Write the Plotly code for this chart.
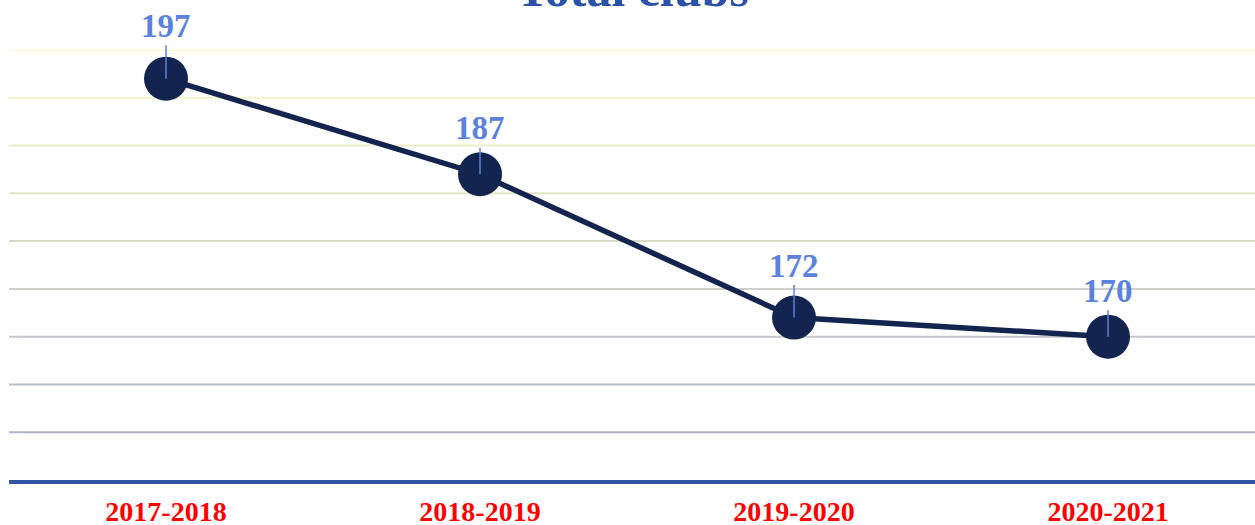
import plotly.graph_objects as go

# ---- data ----
seasons = ["2017-2018", "2018-2019", "2019-2020", "2020-2021"]
total_clubs = [197, 187, 172, 170]
label_offsets = [-53, -46, -52, -46]

title_text = "Total clubs"
grid_values = [160, 165, 170, 175, 180, 185, 190, 195, 200]
grid_colors = ["#aeb3c8", "#b8bdcc", "#c3c7cc", "#cdd0cb", "#d8dbc9",
               "#e2e4c7", "#ecedc8", "#f4f4cb", "#fcfbcf"]
y_min, y_max = 155, 200

fig = go.Figure()

fig.add_trace(go.Scatter(
    x=seasons, y=total_clubs, mode="lines+markers",
    line=dict(color="#13244f", width=5.5),
    marker=dict(size=44, color="#13244f"),
    cliponaxis=False, hoverinfo="skip", showlegend=False,
))

# coloured gridlines
for v, c in zip(grid_values, grid_colors):
    fig.add_shape(type="line", xref="paper", yref="y", x0=0, x1=1, y0=v, y1=v,
                  line=dict(color=c, width=2), layer="below")

# data labels with leader lines
for s, v, off in zip(seasons, total_clubs, label_offsets):
    fig.add_annotation(
        x=s, y=v, xref="x", yref="y", text=str(v),
        showarrow=True, arrowhead=0, arrowwidth=1.5, arrowcolor="#5b82dc",
        ax=0, ay=off, standoff=0, startstandoff=0,
        font=dict(family="Liberation Serif", size=33, color="#5b82dc", weight="bold"),
    )

# title (cut off at top)
fig.add_annotation(
    x=0.5, y=1.143, xref="paper", yref="paper", text=title_text, showarrow=False,
    xanchor="center", yanchor="middle",
    font=dict(family="Liberation Serif", size=50, color="#2b52a6", weight="bold"),
)

fig.update_layout(
    width=1255, height=525,
    margin=dict(l=9, r=0, t=50, b=45, autoexpand=False),
    paper_bgcolor="white", plot_bgcolor="white",
    xaxis=dict(
        range=[-0.5, 3.468], showgrid=False, zeroline=False,
        showline=True, linecolor="#2f55a4", linewidth=3.5,
        ticks="outside", ticklen=4, tickcolor="rgba(0,0,0,0)",
        tickfont=dict(family="Liberation Serif", size=28, color="#ff0000", weight="bold"),
        automargin=False,
    ),
    yaxis=dict(
        range=[y_min, y_max], showgrid=False, zeroline=False,
        showticklabels=False, showline=False, automargin=False,
    ),
)

fig.write_html("out.html", config={"displayModeBar": False},
               post_script="document.body.style.margin='0';")
